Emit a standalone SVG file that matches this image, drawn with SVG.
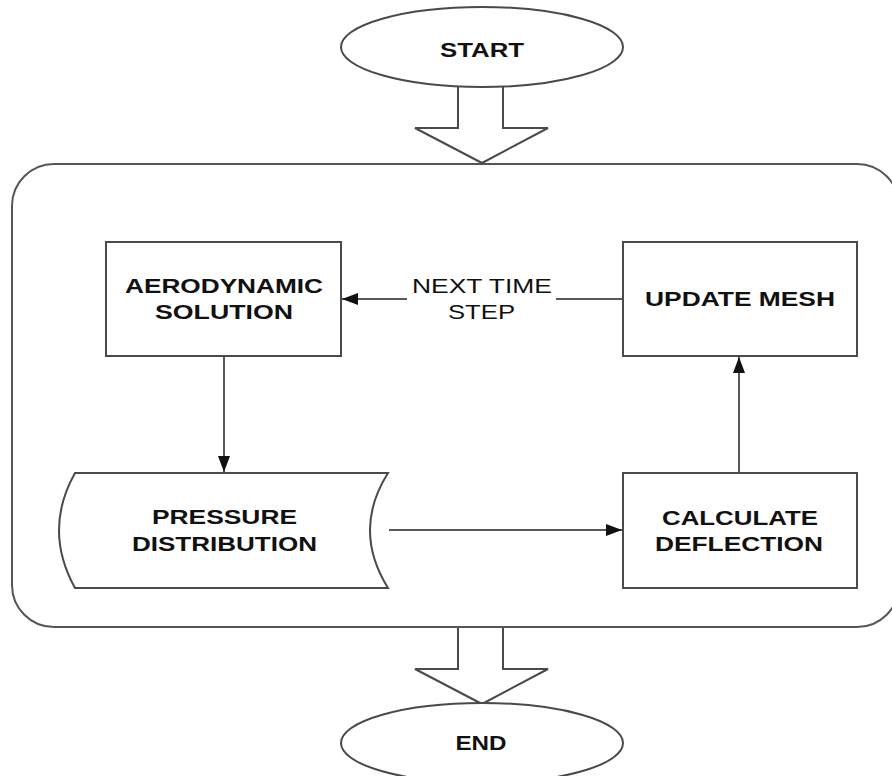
<svg xmlns="http://www.w3.org/2000/svg" width="892" height="776" viewBox="0 0 892 776">
<style>
.shape{fill:#fff;stroke:#4a4a4a;stroke-width:2}
.cont{fill:#fff;stroke:#555;stroke-width:2}
.lbl{font-family:"Liberation Sans",Arial,sans-serif;font-weight:bold;font-size:21px;fill:#111;text-anchor:middle}
.reg{font-family:"Liberation Sans",Arial,sans-serif;font-size:21px;fill:#111;text-anchor:middle}
.conn{fill:none;stroke:#222;stroke-width:1.5}
</style>
<defs>
<marker id="ah" viewBox="0 0 16 12" refX="16" refY="6" markerWidth="16" markerHeight="12" markerUnits="userSpaceOnUse" orient="auto">
<path d="M0,0 L16,6 L0,12 Z" fill="#111"/>
</marker>
</defs>
<g id="container">
<rect class="cont" x="12" y="164" width="887" height="463" rx="42" ry="42"/>
</g>
<g id="start-arrow">
<path class="shape" d="M458,86 V128 H415 L482,163 L548,128 H503 V86"/>
</g>
<g id="end-arrow">
<path class="shape" d="M458,628 V669 H415 L482,704 L548,669 H503 V628"/>
</g>
<g id="start">
<ellipse class="shape" cx="482" cy="47" rx="141" ry="40"/>
<text class="lbl" x="482" y="57" textLength="84" lengthAdjust="spacingAndGlyphs">START</text>
</g>
<g id="end">
<ellipse class="shape" cx="482" cy="743" rx="141" ry="40"/>
<text class="lbl" x="481" y="750" textLength="51" lengthAdjust="spacingAndGlyphs">END</text>
</g>
<g id="aero">
<rect class="shape" x="106" y="242" width="235" height="114"/>
<text class="lbl" x="224" y="293" textLength="198" lengthAdjust="spacingAndGlyphs">AERODYNAMIC</text>
<text class="lbl" x="224" y="319" textLength="138" lengthAdjust="spacingAndGlyphs">SOLUTION</text>
</g>
<g id="update">
<rect class="shape" x="623" y="242" width="234" height="114"/>
<text class="lbl" x="740" y="306" textLength="190" lengthAdjust="spacingAndGlyphs">UPDATE MESH</text>
</g>
<g id="pressure">
<path class="shape" d="M75,473 H388 Q352,530 388,588 H75 Q43,530 75,473 Z"/>
<text class="lbl" x="224.5" y="524" textLength="145" lengthAdjust="spacingAndGlyphs">PRESSURE</text>
<text class="lbl" x="224.5" y="551" textLength="185" lengthAdjust="spacingAndGlyphs">DISTRIBUTION</text>
</g>
<g id="calculate">
<rect class="shape" x="623" y="473" width="234" height="115"/>
<text class="lbl" x="740" y="525" textLength="156" lengthAdjust="spacingAndGlyphs">CALCULATE</text>
<text class="lbl" x="739" y="551" textLength="168" lengthAdjust="spacingAndGlyphs">DEFLECTION</text>
</g>
<g id="connectors">
<path class="conn" d="M622,299 H556"/>
<path class="conn" d="M407,299 H342" marker-end="url(#ah)"/>
<text class="reg" x="482" y="293" textLength="140" lengthAdjust="spacingAndGlyphs">NEXT TIME</text>
<text class="reg" x="481.5" y="319" textLength="67" lengthAdjust="spacingAndGlyphs">STEP</text>
<path class="conn" d="M224,357 V472" marker-end="url(#ah)"/>
<path class="conn" d="M389,530 H622" marker-end="url(#ah)"/>
<path class="conn" d="M739,472 V357" marker-end="url(#ah)"/>
</g>
</svg>
